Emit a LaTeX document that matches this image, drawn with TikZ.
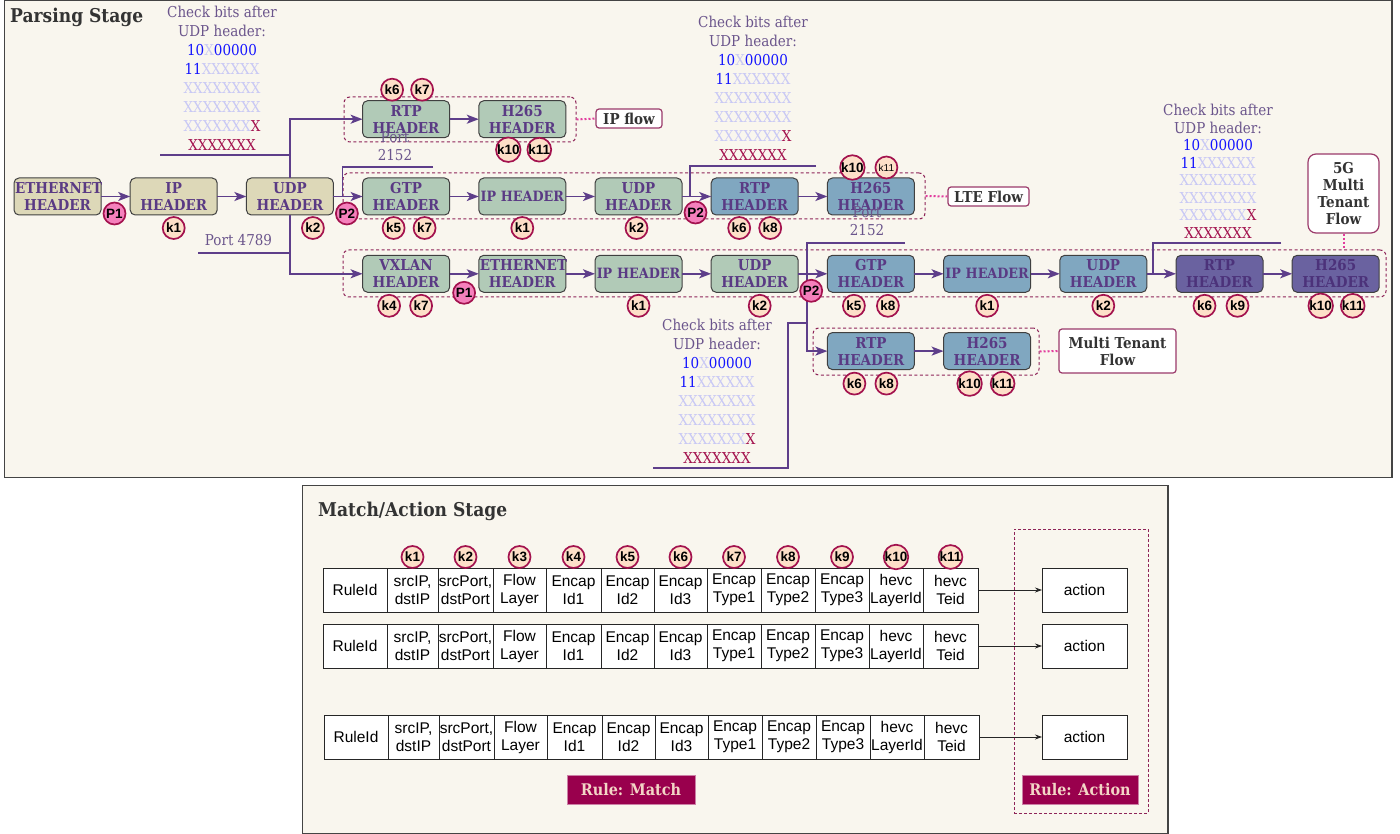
\documentclass[tikz,border=0pt]{standalone}
\usepackage{fontspec}
\setmainfont[FakeStretch=0.9]{DejaVu Serif}
\setsansfont{Liberation Sans}
\usepackage{tikz}
\usetikzlibrary{arrows.meta,positioning,calc}
\usepackage{xcolor}
\definecolor{paperBg}{RGB}{249,246,238}
\definecolor{frameLine}{RGB}{68,68,68}
\definecolor{hdrTan}{RGB}{221,216,184}
\definecolor{hdrSage}{RGB}{177,202,183}
\definecolor{hdrBlue}{RGB}{128,167,192}
\definecolor{hdrViolet}{RGB}{106,98,160}
\definecolor{hdrText}{RGB}{90,58,132}
\definecolor{hdrTextDark}{RGB}{76,50,122}
\definecolor{wireViolet}{RGB}{94,62,138}
\definecolor{ringRed}{RGB}{163,18,78}
\definecolor{keyPeach}{RGB}{253,223,200}
\definecolor{parsePink}{RGB}{245,128,188}
\definecolor{grpLine}{RGB}{142,36,88}
\definecolor{linkPink}{RGB}{226,60,158}
\definecolor{tagLine}{RGB}{155,58,106}
\definecolor{bitText}{RGB}{107,85,140}
\definecolor{bitBlue}{RGB}{20,20,255}
\definecolor{bitFaint}{RGB}{200,200,245}
\definecolor{bitRed}{RGB}{163,18,78}
\definecolor{ruleFill}{RGB}{153,0,77}
\definecolor{ruleText}{RGB}{243,214,198}

\newcommand{\udpBits}{Check bits after\\UDP header:\\
{\color{bitBlue}10}{\color{bitFaint}X}{\color{bitBlue}00000}\\
{\color{bitBlue}11}{\color{bitFaint}XXXXXX}\\
{\color{bitFaint}XXXXXXXX}\\
{\color{bitFaint}XXXXXXXX}\\
{\color{bitFaint}XXXXXXX}{\color{bitRed}X}\\
{\color{bitRed}XXXXXXX}}

\begin{document}
\begin{tikzpicture}[
  x=1pt, y=-1pt,
  node distance=40.3pt and 29.2pt,
  stage/.style={draw=frameLine, line width=1.2pt, fill=paperBg},
  stagetitle/.style={anchor=west, inner sep=0pt, text=black!80, font=\bfseries\fontsize{19}{22}\selectfont},
  hdr/.style={draw=black!75, line width=1pt, rounded corners=5pt, text width=85pt, inner xsep=1pt, inner ysep=0pt,
              minimum height=37pt, outer sep=0pt, align=center, text=hdrText, font=\bfseries\fontsize{15}{17}\selectfont},
  tanhdr/.style={hdr, fill=hdrTan},
  sagehdr/.style={hdr, fill=hdrSage},
  bluehdr/.style={hdr, fill=hdrBlue},
  violethdr/.style={hdr, fill=hdrViolet, text=hdrTextDark},
  oneline/.style={font=\bfseries\fontsize{14.2}{17}\selectfont},
  grp/.style={draw=grpLine, line width=1pt, dash pattern=on 3pt off 2.5pt, rounded corners=6pt},
  wire/.style={draw=wireViolet, line width=1.8pt},
  arr/.style={wire, -{Stealth[length=12pt, width=9pt, inset=3pt]}},
  kmark/.style={circle, draw=ringRed, fill=keyPeach, line width=1.7pt, minimum size=22pt, inner sep=0pt,
                font=\sffamily\bfseries\fontsize{13.5}{13.5}\selectfont},
  pmark/.style={kmark, fill=parsePink},
  bits/.style={align=center, inner sep=0pt, text=bitText, font=\fontsize{15}{19}\selectfont},
  porttxt/.style={align=center, inner sep=0pt, text=bitText, font=\fontsize{15}{18}\selectfont},
  flowtag/.style={draw=tagLine, line width=1.2pt, fill=white, rounded corners=3pt, align=center, inner sep=1pt,
                  text=black!80, font=\bfseries\fontsize{15}{17}\selectfont},
  dotlink/.style={draw=linkPink, line width=2pt, dash pattern=on 2pt off 2pt},
  cell/.style={draw=black!85, fill=white, line width=0.8pt, minimum height=44pt, inner sep=0pt, outer sep=0pt,
               align=center, font=\sffamily\fontsize{15.5}{18}\selectfont},
  actbox/.style={cell, minimum width=85pt},
  thinarr/.style={draw=black!85, line width=0.8pt, -{Stealth[length=7pt, width=5pt]}},
  zone/.style={draw=grpLine, line width=0.8pt, dash pattern=on 3pt off 2pt},
  ruletag/.style={fill=ruleFill, draw=ruleFill!50, minimum height=29pt, text=ruleText,
                  font=\bfseries\fontsize{16}{18}\selectfont}
]
\useasboundingbox (0,0) rectangle (1400,834);

% Stage frames
\draw[stage] (4.5,0.5) rectangle (1392,477.5);
\node[stagetitle] (parseTitle) at (10,17) {Parsing Stage};
\draw[stage] (302.5,485.5) rectangle (1168,833.5);
\node[stagetitle] (matchTitle) at (318,511) {Match/Action Stage};

% Flow groups
\node[grp, minimum width=232pt, minimum height=45pt] (grpIp) at (460,119.5) {};
\node[grp, minimum width=582pt, minimum height=46pt] (grpLte) at (634,196) {};
\node[grp, minimum width=1043pt, minimum height=47pt] (grp5g) at (864.5,273.5) {};
\node[grp, minimum width=226pt, minimum height=47pt] (grpMt) at (926,351.5) {};

% Main row and LTE flow
\node[tanhdr] (eth0) at (57.5,196.5) {ETHERNET\\HEADER};
\node[tanhdr, right=of eth0] (ip0) {IP\\HEADER};
\node[tanhdr, right=of ip0] (udp0) {UDP\\HEADER};
\node[sagehdr, right=of udp0] (gtp2) {GTP\\HEADER};
\node[sagehdr, oneline, right=of gtp2] (ip2) {IP HEADER};
\node[sagehdr, right=of ip2] (udp2) {UDP\\HEADER};
\node[bluehdr, right=of udp2] (rtp2) {RTP\\HEADER};
\node[bluehdr, right=of rtp2] (h2) {H265\\HEADER};

% IP flow
\node[sagehdr, above=of gtp2] (rtp1) {RTP\\HEADER};
\node[sagehdr, right=of rtp1] (h1) {H265\\HEADER};

% 5G multi tenant flow
\node[sagehdr, below=of gtp2] (vx3) {VXLAN\\HEADER};
\node[sagehdr, right=of vx3] (eth3) {ETHERNET\\HEADER};
\node[sagehdr, oneline, right=of eth3] (ip3) {IP HEADER};
\node[sagehdr, right=of ip3] (udp3) {UDP\\HEADER};
\node[bluehdr, right=of udp3] (gtp3) {GTP\\HEADER};
\node[bluehdr, oneline, right=of gtp3] (ip3b) {IP HEADER};
\node[bluehdr, right=of ip3b] (udp3b) {UDP\\HEADER};
\node[violethdr, right=of udp3b] (rtp3) {RTP\\HEADER};
\node[violethdr, right=of rtp3] (h3) {H265\\HEADER};

% Multi tenant flow
\node[bluehdr, below=of gtp3] (rtp4) {RTP\\HEADER};
\node[bluehdr, right=of rtp4] (h4) {H265\\HEADER};

% Free ends of the check/port lines
\coordinate (ul1) at (160,155);
\coordinate (pl1) at (198,253);
\coordinate (pt1) at (433,167);
\coordinate (ul2) at (816,166);
\coordinate (pt2) at (905,243);
\coordinate (j3) at (808,323);
\coordinate (ul3) at (653,468);
\coordinate (ul4) at (1281,243);

% Connectors
\draw[arr] (eth0) -- (ip0);
\draw[arr] (ip0) -- (udp0);
\draw[arr] (udp0) -- (gtp2);
\draw[arr] (gtp2) -- (ip2);
\draw[arr] (ip2) -- (udp2);
\draw[arr] (udp2) -- (rtp2);
\draw[arr] (rtp2) -- (h2);
\draw[arr] (udp0.north) |- (rtp1);
\draw[arr] (rtp1) -- (h1);
\draw[arr] (udp0.south) |- (vx3);
\draw[arr] (vx3) -- (eth3);
\draw[arr] (eth3) -- (ip3);
\draw[arr] (ip3) -- (udp3);
\draw[arr] (udp3) -- (gtp3);
\draw[arr] (gtp3) -- (ip3b);
\draw[arr] (ip3b) -- (udp3b);
\draw[arr] (udp3b) -- (rtp3);
\draw[arr] (rtp3) -- (h3);
\draw[arr] (pt2) -| ([xshift=9pt]udp3.east) |- (rtp4);
\draw[arr] (rtp4) -- (h4);

\draw[wire] (ul1) -- (ul1 -| udp0);
\draw[wire] (pl1) -- (pl1 -| udp0);
\draw[wire] (pt1) -| ([xshift=9pt]udp0.east);
\draw[wire] (ul2) -| ([xshift=8pt]udp2.east);
\draw[wire] (ul3) -| ([xshift=-20pt]j3) -- (j3);
\draw[wire] (ul4) -| ([xshift=6pt]udp3b.east);

% Flow names
\node[flowtag, minimum width=66pt, minimum height=19pt] (tagIp) at (629,118.5) {IP flow};
\node[flowtag, minimum width=81pt, minimum height=19pt] (tagLte) at (988.5,196.5) {LTE Flow};
\node[flowtag, minimum width=117pt, minimum height=44pt] (tagMt) at (1117.5,351) {Multi Tenant\\Flow};
\node[flowtag, rounded corners=8pt, minimum width=71pt, minimum height=79pt] (tag5g) at (1343.5,193.5) {5G\\Multi\\Tenant\\Flow};
\draw[dotlink] (grpIp.east) -- (tagIp.west);
\draw[dotlink] (grpLte.east) -- (tagLte.west);
\draw[dotlink] (grpMt.east) -- (tagMt.west);
\draw[dotlink] (tag5g.south) -- (tag5g.south |- grp5g.north);

% Check bits and ports
\node[bits] (bits1) at (222,78) {\udpBits};
\node[bits] (bits2) at (753,88) {\udpBits};
\node[bits] (bits3) at (717,391) {\udpBits};
\node[bits, font=\fontsize{15}{17.5}\selectfont] (bits4) at (1218,171.5) {\udpBits};
\node[porttxt] (port1) at (238.5,240) {Port 4789};
\node[porttxt] (port2) at (395,146) {Port\\2152};
\node[porttxt] (port3) at (867,221.5) {Port\\2152};

% Keys and parse points
\node[pmark] (p1a) at ([xshift=13.5pt,yshift=-17pt]eth0.east) {P1};
\node[kmark] (k1a) at ([yshift=-13pt]ip0.south) {k1};
\node[kmark] (k2a) at ([xshift=23pt,yshift=-13pt]udp0.south) {k2};
\node[pmark] (p2a) at ([xshift=13.5pt,yshift=-17pt]udp0.east) {P2};

\node[kmark] (k6b) at ([xshift=-14pt,yshift=11pt]rtp1.north) {k6};
\node[kmark] (k7b) at ([xshift=16pt,yshift=11pt]rtp1.north) {k7};
\node[kmark] (k10b) at ([xshift=-14pt,yshift=-12pt]h1.south) {k10};
\node[kmark] (k11b) at ([xshift=17pt,yshift=-12pt]h1.south) {k11};

\node[kmark] (k5c) at ([xshift=-12.5pt,yshift=-13pt]gtp2.south) {k5};
\node[kmark] (k7c) at ([xshift=18.5pt,yshift=-13pt]gtp2.south) {k7};
\node[kmark] (k1c) at ([yshift=-13pt]ip2.south) {k1};
\node[kmark] (k2c) at ([xshift=-2pt,yshift=-13pt]udp2.south) {k2};
\node[pmark] (p2c) at ([xshift=13.5pt,yshift=-16pt]udp2.east) {P2};
\node[kmark] (k6c) at ([xshift=-15.5pt,yshift=-13pt]rtp2.south) {k6};
\node[kmark] (k8c) at ([xshift=15.5pt,yshift=-13pt]rtp2.south) {k8};
\node[kmark] (k10c) at ([xshift=-18.5pt,yshift=10.5pt]h2.north) {k10};
\node[kmark, font=\sffamily\fontsize{10}{10}\selectfont] (k11c) at ([xshift=15.5pt,yshift=10.5pt]h2.north) {k11};

\node[kmark] (k4d) at ([xshift=-17pt,yshift=-13.5pt]vx3.south) {k4};
\node[kmark] (k7d) at ([xshift=15pt,yshift=-13.5pt]vx3.south) {k7};
\node[pmark] (p1d) at ([xshift=14.5pt,yshift=-19pt]vx3.east) {P1};
\node[kmark] (k1d) at ([yshift=-13.5pt]ip3.south) {k1};
\node[kmark] (k2d) at ([xshift=5pt,yshift=-13.5pt]udp3.south) {k2};
\node[pmark] (p2d) at ([xshift=13pt,yshift=-17pt]udp3.east) {P2};
\node[kmark] (k5d) at ([xshift=-17pt,yshift=-13.5pt]gtp3.south) {k5};
\node[kmark] (k8d) at ([xshift=17pt,yshift=-13.5pt]gtp3.south) {k8};
\node[kmark] (k1e) at ([yshift=-13.5pt]ip3b.south) {k1};
\node[kmark] (k2e) at ([yshift=-13.5pt]udp3b.south) {k2};
\node[kmark] (k6d) at ([xshift=-15pt,yshift=-13.5pt]rtp3.south) {k6};
\node[kmark] (k9d) at ([xshift=18pt,yshift=-13.5pt]rtp3.south) {k9};
\node[kmark] (k10d) at ([xshift=-15pt,yshift=-13.5pt]h3.south) {k10};
\node[kmark] (k11d) at ([xshift=17pt,yshift=-13.5pt]h3.south) {k11};

\node[kmark] (k6f) at ([xshift=-16.5pt,yshift=-14pt]rtp4.south) {k6};
\node[kmark] (k8f) at ([xshift=15.5pt,yshift=-14pt]rtp4.south) {k8};
\node[kmark] (k10f) at ([xshift=-17.5pt,yshift=-14pt]h4.south) {k10};
\node[kmark] (k11f) at ([xshift=15.5pt,yshift=-14pt]h4.south) {k11};

% Match/Action: rule region
\node[zone, minimum width=134pt, minimum height=284pt] (actZone) at (1081,671) {};

% Rule row 1
\node[cell, minimum width=64pt, anchor=west] (ra0) at (323,590) {RuleId};
\node[cell, minimum width=51pt, right=0pt of ra0] (ra1) {srcIP,\\dstIP};
\node[cell, minimum width=55pt, right=0pt of ra1] (ra2) {srcPort,\\dstPort};
\node[cell, minimum width=53pt, right=0pt of ra2] (ra3) {Flow\\Layer};
\node[cell, minimum width=55pt, right=0pt of ra3] (ra4) {Encap\\Id1};
\node[cell, minimum width=53pt, right=0pt of ra4] (ra5) {Encap\\Id2};
\node[cell, minimum width=53pt, right=0pt of ra5] (ra6) {Encap\\Id3};
\node[cell, minimum width=54pt, right=0pt of ra6] (ra7) {Encap\\Type1};
\node[cell, minimum width=54pt, right=0pt of ra7] (ra8) {Encap\\Type2};
\node[cell, minimum width=54pt, right=0pt of ra8] (ra9) {Encap\\Type3};
\node[cell, minimum width=54pt, right=0pt of ra9] (ra10) {hevc\\LayerId};
\node[cell, minimum width=55pt, right=0pt of ra10] (ra11) {hevc\\Teid};

% Rule row 2
\node[cell, minimum width=64pt, anchor=west] (rb0) at (323,646) {RuleId};
\node[cell, minimum width=51pt, right=0pt of rb0] (rb1) {srcIP,\\dstIP};
\node[cell, minimum width=55pt, right=0pt of rb1] (rb2) {srcPort,\\dstPort};
\node[cell, minimum width=53pt, right=0pt of rb2] (rb3) {Flow\\Layer};
\node[cell, minimum width=55pt, right=0pt of rb3] (rb4) {Encap\\Id1};
\node[cell, minimum width=53pt, right=0pt of rb4] (rb5) {Encap\\Id2};
\node[cell, minimum width=53pt, right=0pt of rb5] (rb6) {Encap\\Id3};
\node[cell, minimum width=54pt, right=0pt of rb6] (rb7) {Encap\\Type1};
\node[cell, minimum width=54pt, right=0pt of rb7] (rb8) {Encap\\Type2};
\node[cell, minimum width=54pt, right=0pt of rb8] (rb9) {Encap\\Type3};
\node[cell, minimum width=54pt, right=0pt of rb9] (rb10) {hevc\\LayerId};
\node[cell, minimum width=55pt, right=0pt of rb10] (rb11) {hevc\\Teid};

% Rule row 3
\node[cell, minimum width=64pt, anchor=west] (rc0) at (324,737) {RuleId};
\node[cell, minimum width=51pt, right=0pt of rc0] (rc1) {srcIP,\\dstIP};
\node[cell, minimum width=55pt, right=0pt of rc1] (rc2) {srcPort,\\dstPort};
\node[cell, minimum width=53pt, right=0pt of rc2] (rc3) {Flow\\Layer};
\node[cell, minimum width=55pt, right=0pt of rc3] (rc4) {Encap\\Id1};
\node[cell, minimum width=53pt, right=0pt of rc4] (rc5) {Encap\\Id2};
\node[cell, minimum width=53pt, right=0pt of rc5] (rc6) {Encap\\Id3};
\node[cell, minimum width=54pt, right=0pt of rc6] (rc7) {Encap\\Type1};
\node[cell, minimum width=54pt, right=0pt of rc7] (rc8) {Encap\\Type2};
\node[cell, minimum width=54pt, right=0pt of rc8] (rc9) {Encap\\Type3};
\node[cell, minimum width=54pt, right=0pt of rc9] (rc10) {hevc\\LayerId};
\node[cell, minimum width=55pt, right=0pt of rc10] (rc11) {hevc\\Teid};

% Keys over the match fields
\node[kmark] (t1) at ([yshift=11pt]ra1.north) {k1};
\node[kmark] (t2) at ([yshift=11pt]ra2.north) {k2};
\node[kmark] (t3) at ([yshift=11pt]ra3.north) {k3};
\node[kmark] (t4) at ([yshift=11pt]ra4.north) {k4};
\node[kmark] (t5) at ([yshift=11pt]ra5.north) {k5};
\node[kmark] (t6) at ([yshift=11pt]ra6.north) {k6};
\node[kmark] (t7) at ([yshift=11pt]ra7.north) {k7};
\node[kmark] (t8) at ([yshift=11pt]ra8.north) {k8};
\node[kmark] (t9) at ([yshift=11pt]ra9.north) {k9};
\node[kmark] (t10) at ([yshift=11pt]ra10.north) {k10};
\node[kmark] (t11) at ([yshift=11pt]ra11.north) {k11};

% Actions
\node[actbox] (act1) at (1084.5,590) {action};
\node[actbox] (act2) at (1084.5,646) {action};
\node[actbox] (act3) at (1084.5,737) {action};
\draw[thinarr] (ra11) -- (act1);
\draw[thinarr] (rb11) -- (act2);
\draw[thinarr] (rc11) -- (act3);

\node[ruletag, minimum width=128pt] (tagMatch) at (631,789.5) {Rule: Match};
\node[ruletag, minimum width=116pt] (tagAction) at (1080,789.5) {Rule: Action};

\end{tikzpicture}
\end{document}
